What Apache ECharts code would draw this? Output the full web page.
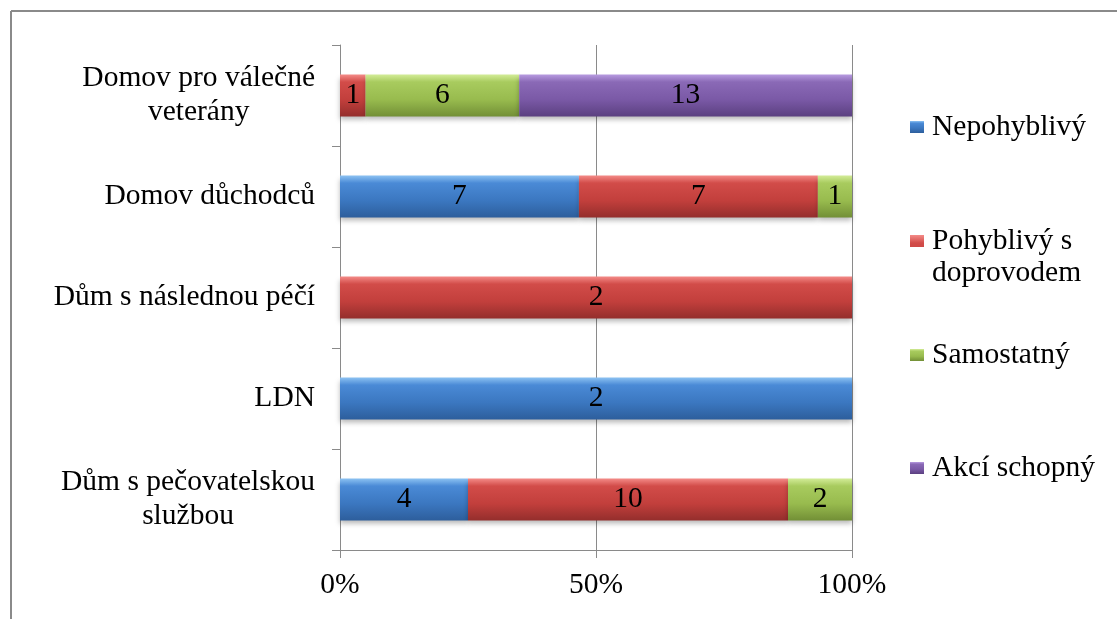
<!DOCTYPE html>
<html><head><meta charset="utf-8">
<script src="https://cdn.jsdelivr.net/npm/echarts@6/dist/echarts.min.js"></script>
<style>html,body{margin:0;padding:0;background:#fff}#c{width:1117px;height:619px}</style>
</head><body><div id="c"></div>
<script>
const categories = ['Domov pro válečné\nveterány', 'Domov důchodců', 'Dům s následnou péčí', 'LDN', 'Dům s pečovatelskou\nslužbou'];
const seriesNames = ['Nepohyblivý', 'Pohyblivý s doprovodem', 'Samostatný', 'Akcí schopný'];
const nepohyblivy = [null, 7, null, 2, 4];
const pohyblivy = [1, 7, 2, null, 10];
const samostatny = [6, 1, null, null, 2];
const akceschopny = [13, null, null, null, null];
const xTicks = [0, 50, 100];

const counts = [nepohyblivy, pohyblivy, samostatny, akceschopny];
const totals = categories.map((_, i) => counts.reduce((s, arr) => s + (arr[i] || 0), 0));

const FONT = '"Liberation Serif", "Times New Roman", serif';
const FS = 29.5;
const palettes = [
  ['#8cc2f2', '#4a8ad6', '#3b77c0', '#2d5e9c'],
  ['#f48b88', '#d24c49', '#c23f3c', '#942e2c'],
  ['#d3ec98', '#a8cb5e', '#98bb4e', '#728f36'],
  ['#b79be0', '#8a69b6', '#7a59a6', '#5b4080']
];
function grad(p) {
  return new echarts.graphic.LinearGradient(0, 0, 0, 1, [
    { offset: 0, color: p[0] }, { offset: 0.18, color: p[1] },
    { offset: 0.6, color: p[2] }, { offset: 1, color: p[3] }
  ]);
}

const chart = echarts.init(document.getElementById('c'));
const series = counts.map((arr, k) => ({
  name: seriesNames[k],
  type: 'bar',
  stack: 'total',
  barWidth: 42,
  data: arr.map((v, i) => v == null ? null : { value: v / totals[i] * 100, raw: v }),
  itemStyle: { color: grad(palettes[k]), shadowBlur: 5, shadowOffsetY: 3, shadowColor: 'rgba(0,0,0,0.28)' },
  label: {
    show: true, position: 'inside', color: '#000', fontFamily: FONT, fontSize: FS,
    formatter: p => p.data ? String(p.data.raw) : ''
  }
}));

const legendTops = [111, 225, 339, 452];
const legends = seriesNames.map((n, k) => {
  const two = n === 'Pohyblivý s doprovodem';
  return {
    data: [{ name: n, icon: two ? 'path://M0,0L14,0L14,12L0,12Z M0,44L0.01,44L0.01,43.99Z' : 'rect' }],
    orient: 'vertical',
    left: 910,
    top: legendTops[k],
    padding: 0,
    itemWidth: 14,
    itemHeight: two ? 44 : 12,
    itemGap: 0,
    selectedMode: false,
    formatter: nm => nm === 'Pohyblivý s doprovodem' ? 'Pohyblivý s\ndoprovodem' : nm,
    textStyle: { fontFamily: FONT, fontSize: FS, color: '#000', lineHeight: 32, padding: [0, 0, 0, 3] }
  };
});

chart.setOption({
  animation: false,
  backgroundColor: '#fff',
  grid: { left: 340, right: 265, top: 45, bottom: 69, containLabel: false },
  legend: legends,
  xAxis: {
    type: 'value', min: xTicks[0], max: xTicks[xTicks.length - 1], interval: xTicks[1] - xTicks[0],
    axisLine: { show: true, lineStyle: { color: '#8a8a8a', width: 1 } },
    axisTick: { show: true, length: 8, lineStyle: { color: '#8a8a8a' } },
    splitLine: { show: true, lineStyle: { color: '#8a8a8a', width: 1 } },
    axisLabel: { formatter: '{value}%', color: '#000', fontFamily: FONT, fontSize: FS, margin: 20 }
  },
  yAxis: {
    type: 'category', data: categories, inverse: true,
    axisLine: { show: true, lineStyle: { color: '#8a8a8a', width: 1 } },
    axisTick: { show: true, length: 8, lineStyle: { color: '#8a8a8a' } },
    axisLabel: {
      color: '#000', margin: 25, align: 'right',
      formatter: v => '{c|' + v + '}',
      rich: { c: { align: 'center', fontFamily: FONT, fontSize: FS, lineHeight: 34, color: '#000' } }
    }
  },
  graphic: [
    { type: 'line', shape: { x1: 11, y1: 11, x2: 1117, y2: 11 }, style: { stroke: '#8a8a8a', lineWidth: 2 } },
    { type: 'line', shape: { x1: 11, y1: 11, x2: 11, y2: 619 }, style: { stroke: '#8a8a8a', lineWidth: 2 } }
  ],
  series: series
});
</script></body></html>
